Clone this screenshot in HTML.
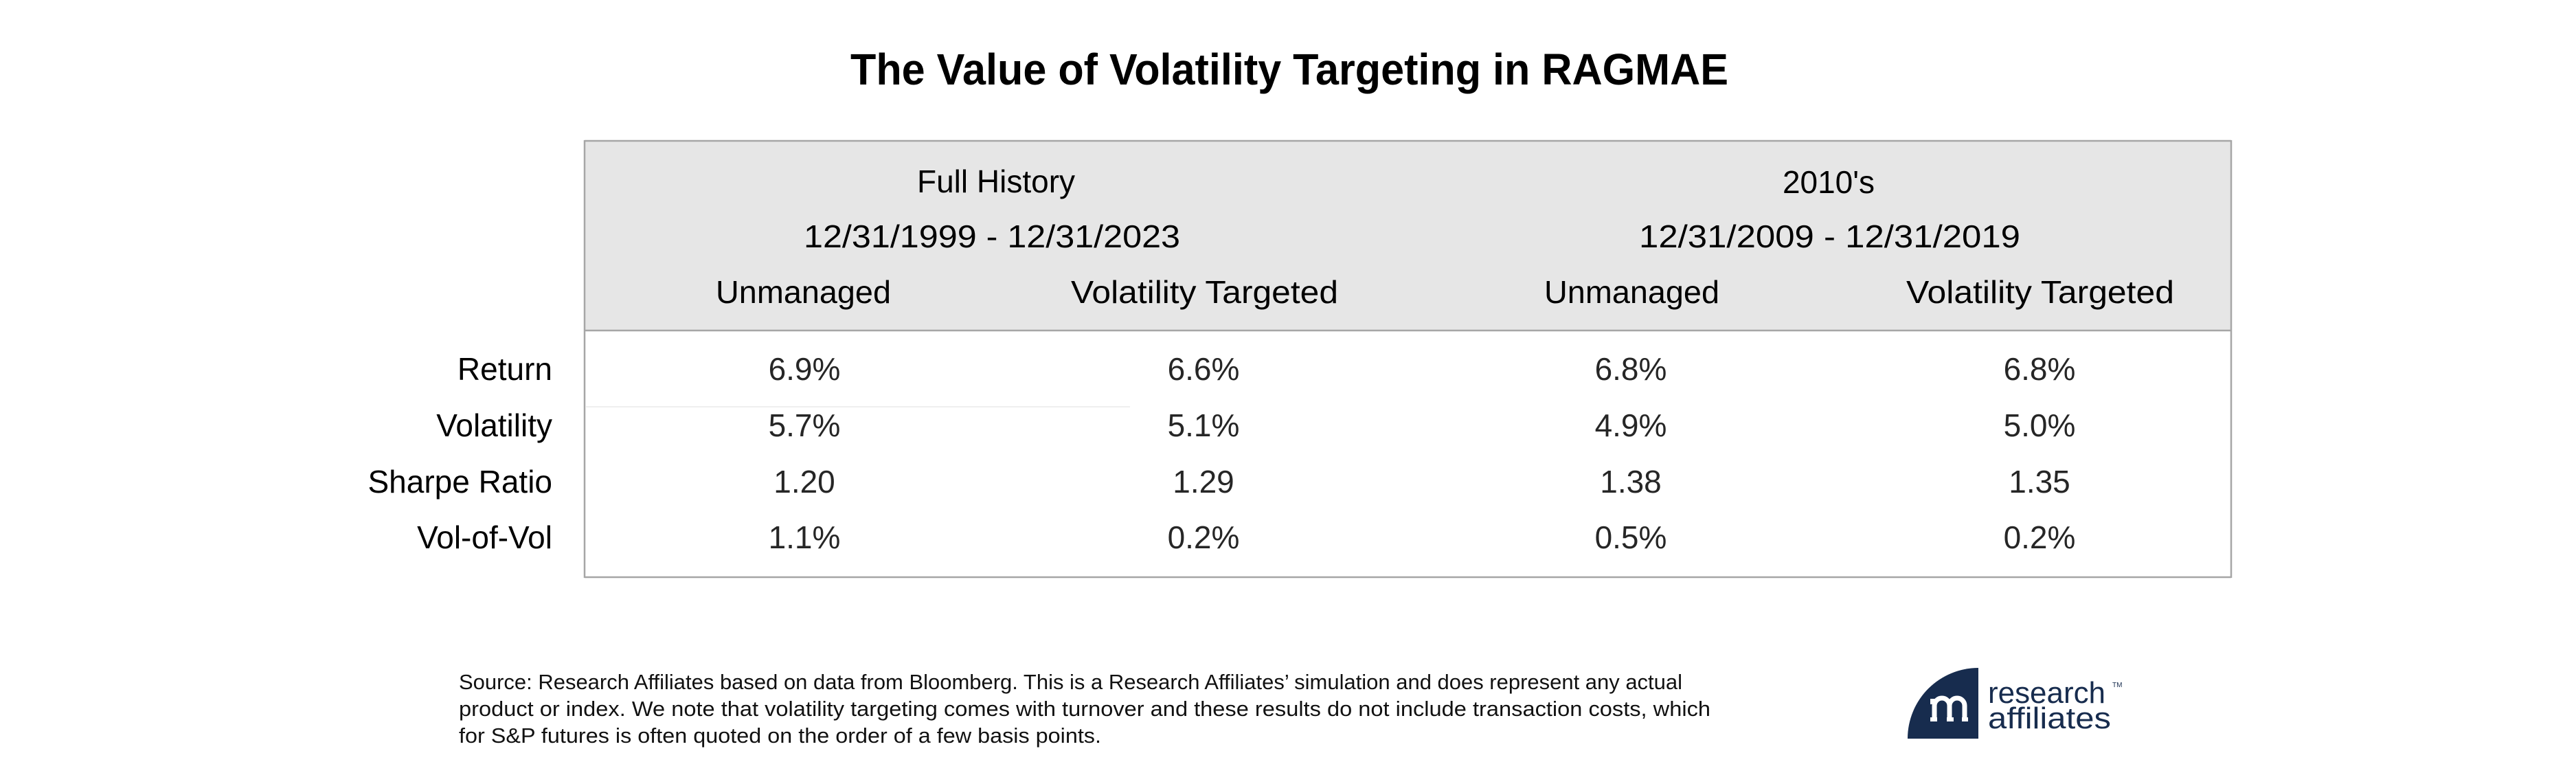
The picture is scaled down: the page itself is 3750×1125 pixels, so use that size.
<!DOCTYPE html>
<html>
<head>
<meta charset="utf-8">
<style>
  html,body{margin:0;padding:0;background:#fff;}
  svg{display:block;}
  text{font-family:"Liberation Sans", Arial, sans-serif;}
</style>
</head>
<body>
<svg width="3750" height="1125" viewBox="0 0 3750 1125" xmlns="http://www.w3.org/2000/svg">
  <rect x="0" y="0" width="3750" height="1125" fill="#ffffff"/>

  <!-- Title -->
  <text x="1238" y="123" font-size="64" font-weight="bold" fill="#000" textLength="1278" lengthAdjust="spacingAndGlyphs">The Value of Volatility Targeting in RAGMAE</text>

  <!-- Table header background -->
  <rect x="851" y="205" width="2397" height="276" fill="#e6e6e6"/>

  <!-- Faint separator -->
  <line x1="853" y1="592" x2="1645" y2="592" stroke="#efefef" stroke-width="2"/>

  <!-- Table borders -->
  <g stroke="#a6a6a6" stroke-width="2.5" fill="none">
    <line x1="851" y1="205" x2="3248" y2="205"/>
    <line x1="851" y1="481" x2="3248" y2="481"/>
    <line x1="851" y1="840" x2="3248" y2="840"/>
    <line x1="851" y1="204" x2="851" y2="841"/>
    <line x1="3248" y1="204" x2="3248" y2="841"/>
  </g>

  <!-- Header text -->
  <g font-size="46" fill="#000">
    <text x="1450" y="280" text-anchor="middle">Full History</text>
    <text x="2662" y="281" text-anchor="middle">2010's</text>
    <text x="1170" y="360" textLength="548" lengthAdjust="spacingAndGlyphs">12/31/1999 - 12/31/2023</text>
    <text x="2386" y="360" textLength="555" lengthAdjust="spacingAndGlyphs">12/31/2009 - 12/31/2019</text>
    <text x="1042" y="441" textLength="255" lengthAdjust="spacingAndGlyphs">Unmanaged</text>
    <text x="1559" y="441" textLength="389" lengthAdjust="spacingAndGlyphs">Volatility Targeted</text>
    <text x="2248" y="441" textLength="255" lengthAdjust="spacingAndGlyphs">Unmanaged</text>
    <text x="2775" y="441" textLength="390" lengthAdjust="spacingAndGlyphs">Volatility Targeted</text>
  </g>

  <!-- Row labels -->
  <g font-size="46" fill="#000" text-anchor="end">
    <text x="804" y="553">Return</text>
    <text x="804" y="635">Volatility</text>
    <text x="804" y="717">Sharpe Ratio</text>
    <text x="804" y="798">Vol-of-Vol</text>
  </g>

  <!-- Values -->
  <g font-size="46" fill="#262626" text-anchor="middle">
    <text x="1171" y="553">6.9%</text>
    <text x="1752" y="553">6.6%</text>
    <text x="2374" y="553">6.8%</text>
    <text x="2969" y="553">6.8%</text>

    <text x="1171" y="635">5.7%</text>
    <text x="1752" y="635">5.1%</text>
    <text x="2374" y="635">4.9%</text>
    <text x="2969" y="635">5.0%</text>

    <text x="1171" y="717">1.20</text>
    <text x="1752" y="717">1.29</text>
    <text x="2374" y="717">1.38</text>
    <text x="2969" y="717">1.35</text>

    <text x="1171" y="798">1.1%</text>
    <text x="1752" y="798">0.2%</text>
    <text x="2374" y="798">0.5%</text>
    <text x="2969" y="798">0.2%</text>
  </g>

  <!-- Footnote -->
  <g font-size="31" fill="#111">
    <text x="668" y="1003" textLength="1781" lengthAdjust="spacingAndGlyphs">Source: Research Affiliates based on data from Bloomberg. This is a Research Affiliates’ simulation and does represent any actual</text>
    <text x="668" y="1042" textLength="1822" lengthAdjust="spacingAndGlyphs">product or index. We note that volatility targeting comes with turnover and these results do not include transaction costs, which</text>
    <text x="668" y="1081" textLength="935" lengthAdjust="spacingAndGlyphs">for S&amp;P futures is often quoted on the order of a few basis points.</text>
  </g>

  <!-- Logo -->
  <g>
    <path d="M2777 1075 A103 103 0 0 1 2880 972 L2880 1075 Z" fill="#172c4e"/>
    <g stroke="#ffffff" stroke-width="7" fill="none" stroke-linecap="butt">
      <path d="M2816 1050 L2816 1027 A11 11 0 0 1 2838 1027 L2838 1050"/>
      <path d="M2838 1027 A11 11 0 0 1 2860 1027 L2860 1050"/>
    </g>
    <g fill="#ffffff">
      <rect x="2810" y="1044" width="10" height="6"/>
      <rect x="2834" y="1044" width="10" height="6"/>
      <rect x="2856" y="1044" width="9" height="6"/>
      <rect x="2810" y="1017" width="8" height="8"/>
    </g>
    <text x="2894" y="1023" font-size="44" fill="#172c4e" textLength="171" lengthAdjust="spacingAndGlyphs">research</text>
    <text x="2894" y="1060" font-size="44" fill="#172c4e" textLength="179" lengthAdjust="spacingAndGlyphs">affiliates</text>
    <text x="3075" y="1000" font-size="10" fill="#172c4e">TM</text>
  </g>
</svg>
</body>
</html>
